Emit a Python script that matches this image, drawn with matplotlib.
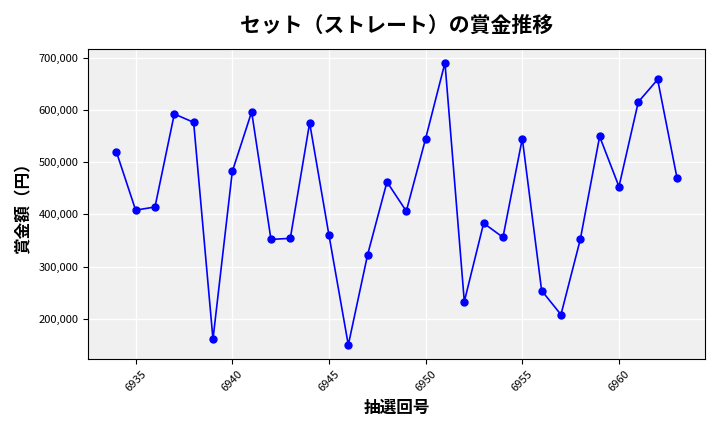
import matplotlib
matplotlib.use("Agg")
import matplotlib.pyplot as plt
from matplotlib.ticker import FuncFormatter

plt.rcParams['font.family'] = ['Noto Sans CJK JP', 'DejaVu Sans']

draws = list(range(6934, 6964))
prizes = [520000, 408000, 414000, 592000, 576000, 161000, 482000, 596000, 352000, 354000,
          575000, 360000, 150000, 323000, 462000, 406000, 545000, 690000, 233000, 383000,
          356000, 545000, 254000, 208000, 352000, 549000, 453000, 615000, 658000, 470000]

fig, ax = plt.subplots(figsize=(7.2, 4.32), dpi=100)
ax.set_facecolor('#f0f0f0')
ax.grid(True, color='white', linewidth=1)
ax.set_axisbelow(True)
ax.plot(draws, prizes, color='blue', marker='o', markersize=5, linewidth=1.2)
ax.set_title('セット（ストレート）の賞金推移', fontsize=15, fontweight='bold', pad=12)
ax.set_xlabel('抽選回号', fontsize=12, fontweight='bold')
ax.set_ylabel('賞金額（円）', fontsize=12, fontweight='bold')
ax.yaxis.set_major_formatter(FuncFormatter(lambda v, p: f'{int(v):,}'))
ax.tick_params(labelsize=8)
plt.setp(ax.get_xticklabels(), rotation=45)
fig.tight_layout()
fig.savefig('out.png')
